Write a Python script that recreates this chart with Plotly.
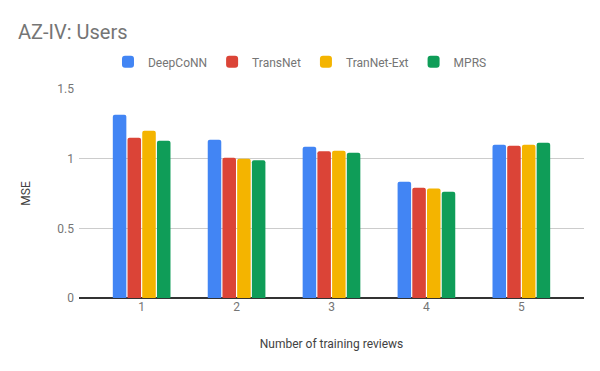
import plotly.graph_objects as go

reviews = [1, 2, 3, 4, 5]
deepconn = [1.316, 1.136, 1.086, 0.835, 1.100]
transnet = [1.151, 1.007, 1.053, 0.792, 1.093]
trannet_ext = [1.201, 1.000, 1.057, 0.785, 1.100]
mprs = [1.129, 0.988, 1.043, 0.763, 1.115]

series = [
    ("DeepCoNN", deepconn, "#4285F4"),
    ("TransNet", transnet, "#DB4437"),
    ("TranNet-Ext", trannet_ext, "#F4B400"),
    ("MPRS", mprs, "#0F9D58"),
]

fig = go.Figure()
for name, values, color in series:
    fig.add_trace(go.Bar(x=reviews, y=values, name=name, marker=dict(color=color, line_width=0)))

# the page body has an 8px margin, so margins are offset to land the plot in place
fig.update_layout(
    width=600,
    height=371,
    margin=dict(l=71, r=24, t=81, b=81, autoexpand=False),
    barmode="group",
    bargap=0.38,
    bargroupgap=0.08,
    barcornerradius=2,
    plot_bgcolor="white",
    paper_bgcolor="white",
    font=dict(family="Roboto", color="#757575", size=12),
    title=dict(
        text="AZ-IV: Users",
        font=dict(size=20, color="#757575"),
        xref="container", x=10 / 600, xanchor="left",
        yref="container", y=1 - 24 / 371, yanchor="middle",
    ),
    legend=dict(
        orientation="h",
        x=0.4376, xanchor="center",
        y=1.13, yanchor="middle",
        font=dict(size=12, color="#757575"),
        itemwidth=30,
        tracegroupgap=0,
    ),
)

fig.update_xaxes(
    range=[0.34, 5.66],
    tickvals=reviews,
    showgrid=False,
    showline=False,
    ticks="",
    tickfont=dict(color="#757575", size=12),
    title=dict(text="Number of training reviews", font=dict(color="#424242", size=12), standoff=26),
)

fig.update_yaxes(
    range=[0, 1.5],
    tickvals=[0, 0.5, 1, 1.5],
    gridcolor="#cccccc",
    zeroline=True,
    zerolinecolor="#333333",
    zerolinewidth=1.5,
    ticks="",
    ticklabelstandoff=4,
    tickfont=dict(color="#757575", size=12),
    title=dict(text="MSE", font=dict(color="#424242", size=12), standoff=24),
)

fig.write_html("out.html")
